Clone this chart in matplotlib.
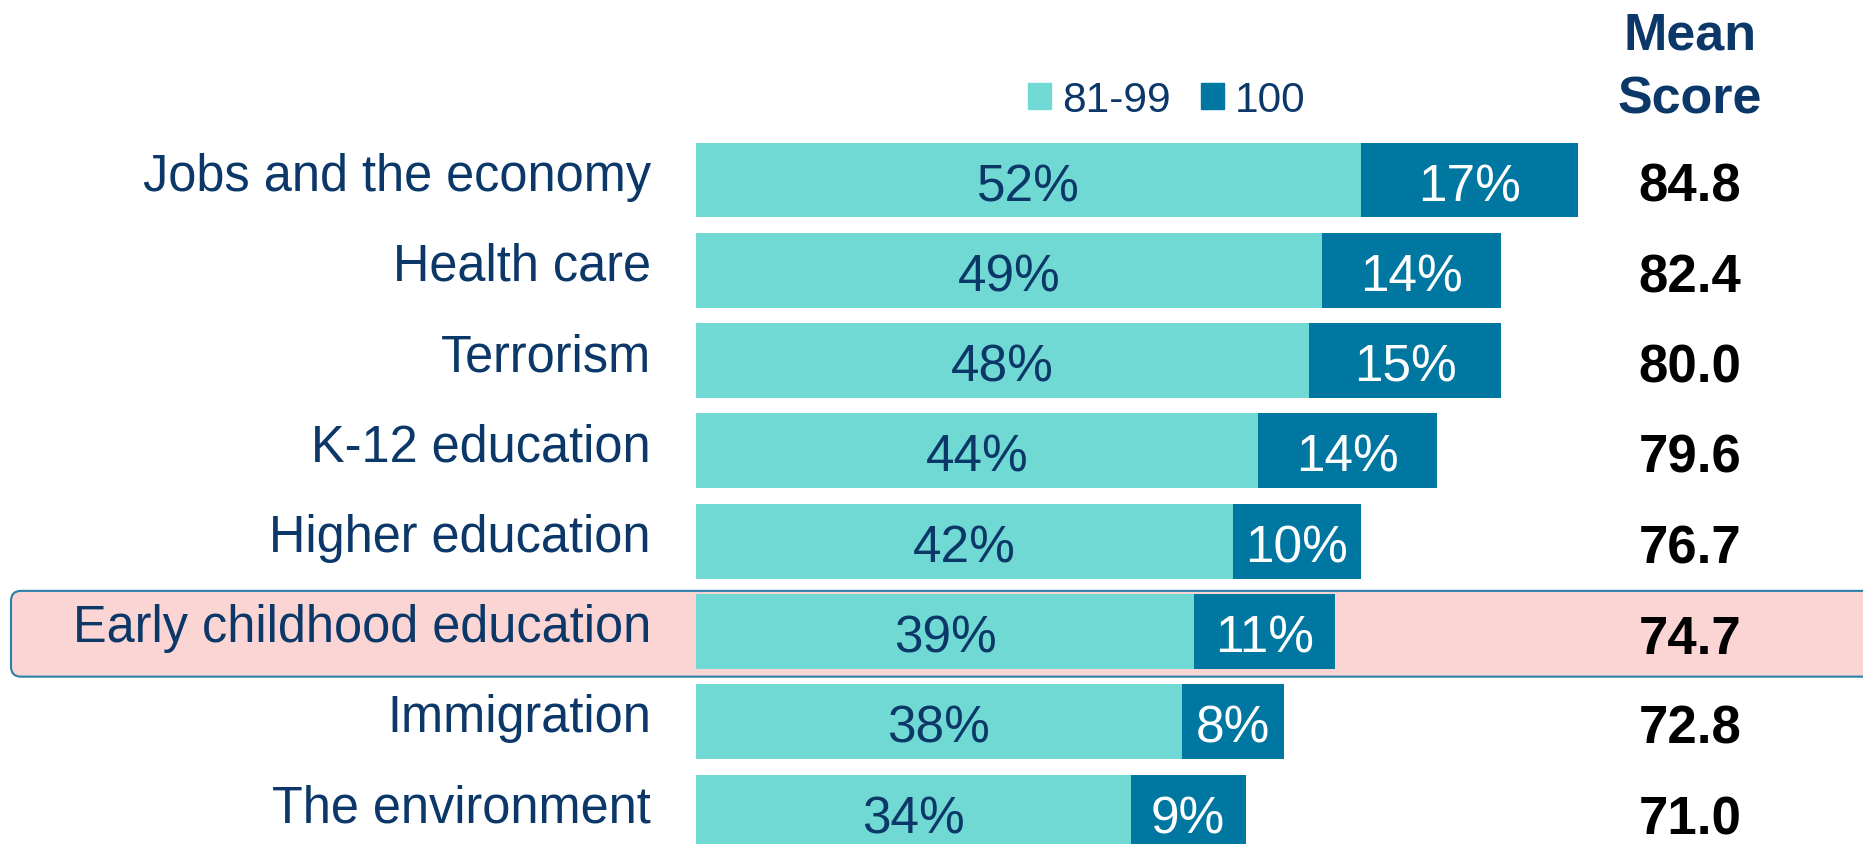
import matplotlib.pyplot as plt
from matplotlib.patches import FancyBboxPatch, Patch

plt.rcParams['font.family'] = ['Liberation Sans', 'DejaVu Sans']

# Data
categories = ['Jobs and the economy', 'Health care', 'Terrorism', 'K-12 education',
              'Higher education', 'Early childhood education', 'Immigration',
              'The environment']
pct_81_99 = [52, 49, 48, 44, 42, 39, 38, 34]
pct_100 = [17, 14, 15, 14, 10, 11, 8, 9]
mean_scores = [84.8, 82.4, 80.0, 79.6, 76.7, 74.7, 72.8, 71.0]
highlight = 'Early childhood education'

LIGHT = '#70d9d3'
DARK = '#0077a1'
NAVY = '#0b3868'

W, H = 1863, 845
fig = plt.figure(figsize=(W / 100, H / 100), dpi=100)
ax = fig.add_axes([0, 0, 1, 1])

# pixel geometry -> data units (x in percent, y in rows)
x0_px, px_per_pct = 696, 12.78
y0_px, px_per_row = 181, 90.3
ax.set_xlim(-x0_px / px_per_pct, (W - x0_px) / px_per_pct)
ax.set_ylim((H - y0_px) / px_per_row, -y0_px / px_per_row)
ax.axis('off')

rows = list(range(len(categories)))
bars1 = ax.barh(rows, pct_81_99, height=0.83, color=LIGHT, zorder=3)
bars2 = ax.barh(rows, pct_100, left=pct_81_99, height=0.83, color=DARK, zorder=3)

# highlight box behind the selected row
hi = categories.index(highlight)
dx, dy = 10 / px_per_pct, 10 / px_per_row
box = FancyBboxPatch(((11 - x0_px) / px_per_pct, hi - 0.45), 200, 0.95,
                     boxstyle='round,pad=0,rounding_size=%f' % dx,
                     mutation_aspect=dy / dx,
                     facecolor='#fad5d3', edgecolor='#2c7fa8', lw=1.5, zorder=1)
ax.add_patch(box)

lab_x = (651 - x0_px) / px_per_pct
mean_x = (1690 - x0_px) / px_per_pct
for i, cat in enumerate(categories):
    ax.text(lab_x, i + 9.5 / px_per_row, cat, ha='right', va='baseline',
            fontsize=36.4, color=NAVY, zorder=4)
    a, b = pct_81_99[i], pct_100[i]
    ax.text(a / 2, i + 20 / px_per_row, f'{a}%', ha='center', va='baseline',
            fontsize=37, color=NAVY, zorder=4)
    ax.text(a + b / 2, i + 20 / px_per_row, f'{b}%', ha='center', va='baseline',
            fontsize=37, color='white', zorder=4)
    ax.text(mean_x, i + 21 / px_per_row, f'{mean_scores[i]:.1f}', ha='center',
            va='baseline', fontsize=38, fontweight='bold', color='black', zorder=4)

# header
ax.text(mean_x, (50 - y0_px) / px_per_row, 'Mean', ha='center', va='baseline',
        fontsize=37.5, fontweight='bold', color=NAVY)
ax.text(mean_x, (113 - y0_px) / px_per_row, 'Score', ha='center', va='baseline',
        fontsize=37.5, fontweight='bold', color=NAVY)

handles = [Patch(color=LIGHT, label='81-99'), Patch(color=DARK, label='100')]
fig.legend(handles=handles, loc='center left', bbox_to_anchor=(1028 / W, 1 - 101 / H),
           ncol=2, frameon=False, fontsize=30.5, labelcolor=NAVY,
           handlelength=0.55, handleheight=0.55, handletextpad=0.25,
           columnspacing=0.72, borderpad=0, borderaxespad=0)

fig.savefig('out.png', dpi=100)
